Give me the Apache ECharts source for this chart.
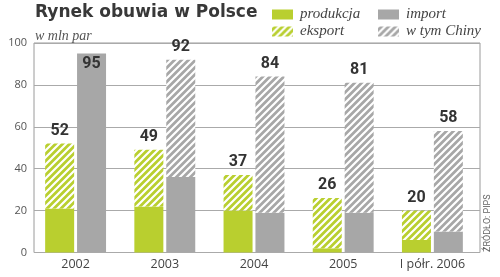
<!DOCTYPE html>
<html><head><meta charset="utf-8">
<script src="https://cdn.jsdelivr.net/npm/echarts@6/dist/echarts.min.js"></script>
<style>html,body{margin:0;padding:0;background:#fff}#c{width:500px;height:277px}</style>
</head><body><div id="c"></div>
<script>
const categories = ['2002', '2003', '2004', '2005', 'I półr. 2006'];
const productionTotal = [52, 49, 37, 26, 20];
const productionSolid = [21, 22, 20, 2, 6];
const importTotal = [95, 92, 84, 81, 58];
const importSolid = [95, 36, 19, 19, 10];
const yTicks = [0, 20, 40, 60, 80, 100];

const exportPart = productionTotal.map((t, i) => t - productionSolid[i]);
const chinaPart = importTotal.map((t, i) => t - importSolid[i]);

const GREEN = '#b9cf2f', GRAY = '#a7a7a7';
function hatch(bg) {
  const s = 7, c = document.createElement('canvas');
  c.width = s; c.height = s;
  const g = c.getContext('2d');
  g.fillStyle = bg; g.fillRect(0, 0, s, s);
  g.strokeStyle = '#fff'; g.lineWidth = 2.2;
  g.beginPath();
  g.moveTo(0, s); g.lineTo(s, 0);
  g.moveTo(-s / 2, s / 2); g.lineTo(s / 2, -s / 2);
  g.moveTo(s / 2, s * 1.5); g.lineTo(s * 1.5, s / 2);
  g.stroke();
  return { image: c, repeat: 'repeat' };
}
const GREEN_H = hatch(GREEN), GRAY_H = hatch(GRAY);

const valLabel = { fontFamily: 'Roboto', fontWeight: 'bold', fontSize: 16, color: '#333' };
const legendText = { fontFamily: 'Liberation Serif', fontStyle: 'italic', fontSize: 15, lineHeight: 12, color: '#444', padding: [0, 0, 0, 2] };

const chart = echarts.init(document.getElementById('c'), null, { renderer: 'canvas' });
chart.setOption({
  animation: false,
  title: {
    text: 'Rynek obuwia w Polsce', subtext: 'w mln par', left: 35, top: 4, itemGap: 8, padding: 0,
    textStyle: { fontFamily: 'DejaVu Sans', fontWeight: 'bold', fontSize: 17, color: '#383838' },
    subtextStyle: { fontFamily: 'Liberation Serif', fontStyle: 'italic', fontSize: 14, color: '#555' }
  },
  legend: [
    {
      left: 272, top: 7, padding: 0, orient: 'vertical', itemWidth: 21, itemHeight: 10, itemGap: 2, icon: 'rect',
      textStyle: legendText,
      data: [{ name: 'produkcja', itemStyle: { color: GREEN } }, { name: 'eksport', itemStyle: { color: GREEN_H } }],
      selectedMode: false
    },
    {
      left: 378, top: 7, padding: 0, orient: 'vertical', itemWidth: 21, itemHeight: 10, itemGap: 2, icon: 'rect',
      textStyle: legendText,
      data: [{ name: 'import', itemStyle: { color: GRAY } }, { name: 'w tym Chiny', itemStyle: { color: GRAY_H } }],
      selectedMode: false
    }
  ],
  grid: [
    { left: 31, right: 23, top: 43, bottom: 24.5 },
    { left: 34, right: 20, top: 43, bottom: 24.5, show: true, borderColor: '#9a9a9a', borderWidth: 1, backgroundColor: 'transparent', z: 0 }
  ],
  xAxis: [
    {
      type: 'category', data: categories, gridIndex: 0,
      axisLine: { show: false }, axisTick: { show: false },
      axisLabel: { margin: 5, fontFamily: 'Open Sans', fontSize: 12.5, color: '#444' }
    },
    { type: 'category', data: categories, gridIndex: 1, show: false }
  ],
  yAxis: [
    {
      type: 'value', min: 0, max: 100, interval: 20, gridIndex: 0,
      axisLine: { show: false }, axisTick: { show: false }, splitLine: { show: false },
      axisLabel: { margin: 4, fontFamily: 'Open Sans', fontSize: 11, color: '#555', padding: [5, 0, 0, 0],
        formatter: v => yTicks.includes(v) ? String(v) : '' }
    },
    {
      type: 'value', min: 0, max: 100, interval: 20, gridIndex: 1,
      axisLine: { show: false }, axisTick: { show: false }, axisLabel: { show: false },
      splitLine: { show: true, lineStyle: { color: '#aaa', width: 1 } }
    }
  ],
  series: [
    {
      name: 'produkcja', type: 'bar', stack: 'p', barWidth: 29, barGap: '10%',
      itemStyle: { color: GREEN }, data: productionSolid
    },
    {
      name: 'eksport', type: 'bar', stack: 'p', barWidth: 29, barGap: '10%',
      itemStyle: { color: GREEN_H },
      label: { show: true, position: 'top', distance: 5, ...valLabel, formatter: p => productionTotal[p.dataIndex] },
      data: exportPart
    },
    {
      name: 'import', type: 'bar', stack: 'i', barWidth: 29, barGap: '10%',
      itemStyle: { color: GRAY },
      data: importSolid.map((v, i) => chinaPart[i] === 0
        ? { value: v, label: { show: true, position: 'insideTop', distance: 3, ...valLabel, formatter: () => importTotal[i] } }
        : v)
    },
    {
      name: 'w tym Chiny', type: 'bar', stack: 'i', barWidth: 29, barGap: '10%',
      itemStyle: { color: GRAY_H },
      data: chinaPart.map((v, i) => v > 0
        ? { value: v, label: { show: true, position: 'top', distance: 5, ...valLabel, formatter: () => importTotal[i] } }
        : v)
    }
  ],
  graphic: [
    {
      type: 'text', x: 483, y: 252, rotation: Math.PI / 2,
      style: { text: 'ŹRÓDŁO: PIPS', fontFamily: 'Liberation Sans Narrow, Roboto', fontSize: 9, fill: '#666', align: 'left', verticalAlign: 'top' }
    }
  ]
});
</script></body></html>
